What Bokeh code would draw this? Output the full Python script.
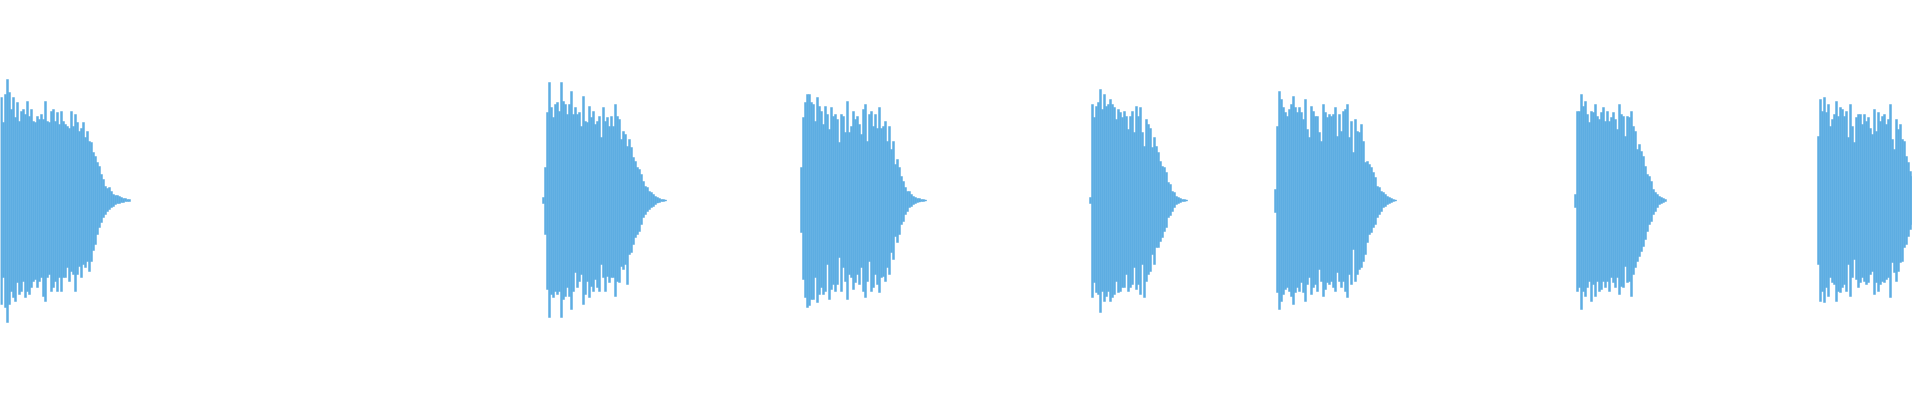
from bokeh.plotting import figure
from bokeh.models import ColumnDataSource, Range1d
from bokeh.embed import file_html
from bokeh.resources import INLINE

# Waveform bursts: start sample (px column) and per-2-sample peak amplitudes (top / bottom)
burst_starts = [0, 542, 800, 1089, 1274, 1574, 1817]
sample_step = 2

b1_top = [103, 78, 106, 121, 108, 91, 103, 83, 98, 79, 89, 91, 86, 99, 84, 91, 79, 78, 84, 81,
          86, 81, 99, 79, 78, 89, 91, 79, 88, 76, 89, 79, 76, 74, 72, 89, 74, 86, 78, 69,
          72, 78, 63, 69, 59, 58, 48, 44, 38, 34, 26, 21, 14, 12, 13, 9, 6, 5, 5, 4,
          3, 2, 2, 1, 1]
b1_bot = [104, 77, 107, 122, 104, 91, 97, 101, 82, 94, 91, 81, 97, 91, 94, 87, 81, 79, 87, 81,
          77, 96, 101, 77, 74, 91, 87, 81, 91, 77, 91, 77, 77, 67, 81, 71, 74, 91, 74, 66,
          77, 64, 67, 61, 71, 61, 50, 44, 34, 27, 22, 17, 14, 11, 9, 7, 6, 4, 3, 3,
          2, 2, 1, 1, 1]

b2_top = [3, 33, 88, 118, 93, 83, 96, 98, 89, 118, 99, 96, 86, 96, 109, 86, 93, 86, 88, 74,
          104, 79, 78, 94, 83, 89, 76, 79, 84, 63, 93, 79, 83, 74, 84, 74, 96, 84, 81, 61,
          69, 66, 54, 61, 53, 43, 39, 33, 31, 26, 19, 14, 13, 9, 8, 6, 4, 3, 2, 1, 1, 0.5]
b2_bot = [3, 34, 89, 117, 94, 97, 91, 94, 91, 117, 99, 96, 87, 96, 109, 91, 72, 87, 81, 74,
          104, 94, 81, 97, 86, 91, 79, 87, 91, 64, 77, 91, 76, 82, 77, 77, 96, 81, 82, 66,
          69, 64, 84, 54, 52, 44, 37, 34, 31, 24, 17, 14, 11, 9, 7, 6, 4, 2.5, 2, 1, 1, 0.5]

b3_top = [33, 83, 98, 106, 106, 98, 96, 79, 103, 94, 89, 76, 94, 86, 71, 93, 84, 86, 81, 58,
          86, 84, 68, 99, 68, 74, 89, 81, 84, 76, 66, 91, 96, 59, 86, 89, 74, 86, 72, 93,
          72, 74, 79, 59, 74, 51, 59, 36, 41, 33, 24, 19, 13, 9, 9, 6, 4, 3, 2, 2, 1, 1, 0.5]
b3_bot = [32, 79, 97, 107, 105, 99, 99, 77, 102, 94, 87, 94, 91, 64, 99, 89, 84, 91, 84, 57,
          91, 67, 81, 99, 74, 77, 89, 82, 74, 84, 67, 91, 97, 81, 61, 91, 87, 74, 84, 92,
          77, 76, 81, 67, 74, 52, 59, 36, 42, 34, 24, 21, 14, 11, 7, 6, 4, 3, 2, 1.5, 1, 1, 0.5]

b4_top = [3, 96, 83, 94, 98, 111, 91, 106, 94, 96, 101, 96, 93, 81, 91, 88, 83, 89, 84, 71,
          84, 89, 68, 94, 84, 93, 68, 54, 81, 76, 72, 53, 63, 54, 48, 39, 34, 33, 28, 18,
          16, 9, 8, 4, 3, 2, 1, 1, 0.5]
b4_bot = [3, 97, 82, 92, 94, 112, 91, 101, 96, 91, 101, 97, 94, 81, 92, 91, 87, 87, 74, 91,
          87, 84, 67, 89, 84, 94, 64, 97, 81, 74, 71, 54, 64, 47, 47, 41, 37, 31, 27, 17,
          15, 11, 7, 4, 3, 2, 1, 1, 0.5]

b5_top = [11, 74, 109, 101, 93, 88, 84, 91, 96, 104, 93, 88, 93, 88, 81, 101, 71, 63, 94, 89,
          84, 84, 68, 59, 96, 88, 83, 86, 84, 86, 93, 64, 86, 69, 89, 91, 96, 63, 79, 48,
          81, 69, 68, 76, 59, 38, 39, 36, 33, 28, 23, 14, 13, 9, 8, 6, 4, 3, 2, 1, 0.5]
b5_bot = [12, 92, 109, 101, 94, 89, 87, 91, 96, 104, 92, 87, 91, 82, 92, 101, 84, 77, 94, 87,
          84, 91, 69, 81, 96, 89, 82, 84, 81, 87, 91, 72, 81, 87, 81, 91, 97, 74, 84, 49,
          81, 74, 69, 67, 61, 54, 42, 34, 32, 27, 24, 17, 14, 11, 7, 6, 4, 3, 2, 1, 0.5]

b6_top = [6, 89, 89, 106, 94, 99, 86, 78, 89, 88, 96, 84, 81, 88, 93, 79, 89, 79, 83, 88,
          81, 71, 96, 86, 84, 64, 84, 83, 89, 74, 69, 51, 56, 49, 44, 34, 26, 24, 19, 11,
          8, 6, 4, 3, 2, 1]
b6_bot = [7, 91, 87, 109, 91, 96, 87, 81, 101, 84, 96, 81, 91, 89, 81, 87, 81, 91, 77, 82,
          87, 77, 94, 86, 87, 66, 82, 81, 96, 74, 67, 61, 56, 51, 46, 39, 31, 24, 21, 14,
          11, 7, 4, 3, 2, 1]

b7_top = [64, 101, 89, 103, 88, 96, 74, 81, 86, 99, 84, 93, 91, 84, 89, 63, 96, 74, 58, 83,
          86, 86, 76, 86, 79, 83, 72, 66, 91, 69, 88, 79, 84, 86, 76, 81, 96, 61, 51, 81,
          71, 76, 61, 59, 44, 38, 29, 24, 18, 14, 11, 6]
b7_bot = [64, 101, 91, 102, 87, 96, 77, 82, 84, 101, 91, 92, 87, 84, 91, 64, 96, 77, 59, 79,
          87, 82, 77, 81, 84, 82, 74, 71, 94, 82, 91, 84, 81, 82, 79, 77, 97, 62, 72, 81,
          71, 62, 61, 47, 44, 36, 29, 24, 17, 14, 12, 9]

tops = [b1_top, b2_top, b3_top, b4_top, b5_top, b6_top, b7_top]
bots = [b1_bot, b2_bot, b3_bot, b4_bot, b5_bot, b6_bot, b7_bot]

wave_color = "#5DADE2"

left, right, top, bottom = [], [], [], []
for start, tv, bv in zip(burst_starts, tops, bots):
    for i, (t, b) in enumerate(zip(tv, bv)):
        x0 = start + i * sample_step
        left.append(x0)
        right.append(x0 + sample_step)
        top.append(t)
        bottom.append(-b)

src = ColumnDataSource(dict(left=left, right=right, top=top, bottom=bottom))

p = figure(width=1912, height=392, output_backend="svg", toolbar_location=None,
           x_axis_type=None, y_axis_type=None,
           x_range=Range1d(0, 1912), y_range=Range1d(-192, 200),
           min_border=0, outline_line_color=None, background_fill_color="white",
           border_fill_color="white")
p.xgrid.visible = False
p.ygrid.visible = False
p.quad(left="left", right="right", top="top", bottom="bottom", source=src,
       fill_color=wave_color, line_color=wave_color, line_width=0.5)

open("out.html", "w").write(file_html(p, INLINE))
